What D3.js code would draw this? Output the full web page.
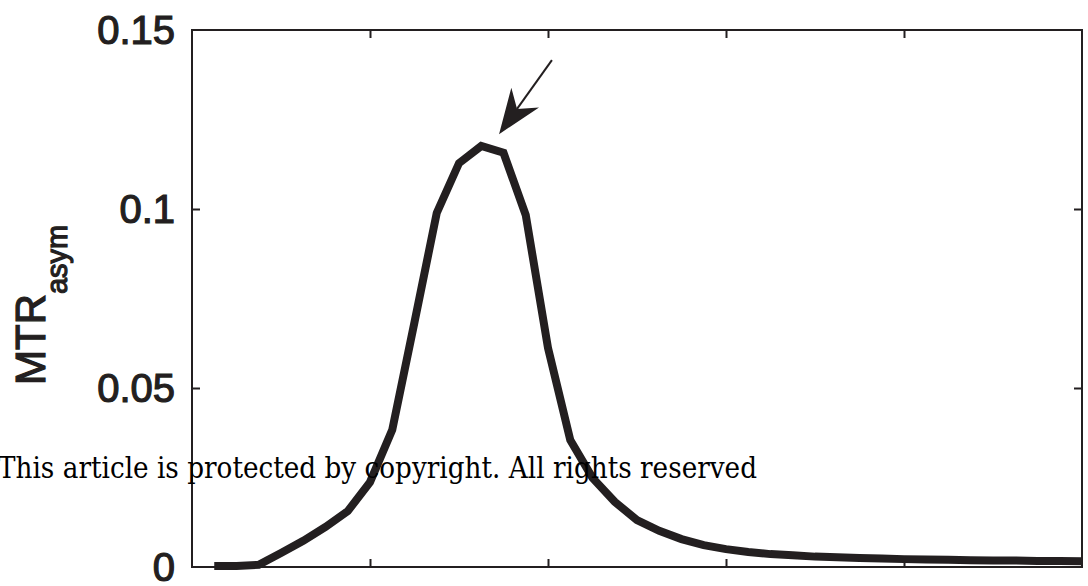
<!DOCTYPE html>
<html>
<head>
<meta charset="utf-8">
<script src="https://cdn.jsdelivr.net/npm/d3@7"></script>
<style>
  body { margin: 0; background: #fff; }
  svg { display: block; }
</style>
</head>
<body>
<svg></svg>
<script>
const width = 1088
const height = 586

// offsets (ppm) and MTR asymmetry
const offsets = [0.125, 0.25, 0.375, 0.5, 0.625, 0.75, 0.875, 1.0, 1.125, 1.25,
  1.375, 1.5, 1.625, 1.75, 1.875, 2.0, 2.125, 2.25, 2.375, 2.5,
  2.625, 2.75, 2.875, 3.0, 3.125, 3.25, 3.375, 3.5, 3.625, 3.75,
  3.875, 4.0, 4.125, 4.25, 4.375, 4.5, 4.625, 4.75, 4.875, 5.0]
const mtrAsym = [0.0003, 0.0003, 0.0006, 0.0039, 0.0073, 0.0112, 0.0156, 0.0237, 0.0383, 0.0684,
  0.0989, 0.1128, 0.1176, 0.1157, 0.0983, 0.0612, 0.0355, 0.0249, 0.0182, 0.0131,
  0.0101, 0.0078, 0.0061, 0.0050, 0.0042, 0.0036, 0.0033, 0.0029, 0.0027, 0.0025,
  0.0024, 0.0022, 0.0021, 0.0020, 0.0019, 0.0018, 0.0018, 0.0017, 0.0017, 0.0016]

const xTicks = [1, 2, 3, 4]
const yTicks = [0, 0.05, 0.1, 0.15]
const yTickLabels = ['0', '0.05', '0.1', '0.15']

// arrow pointing at the peak (tail -> tip, data units)
const arrowTail = [2.022, 0.1416]
const arrowTip = [1.725, 0.1209]

const ink = '#231f20'

const x = d3.scaleLinear().domain([0, 5]).range([192, 1082])
const y = d3.scaleLinear().domain([0, 0.15]).range([567, 30])

const svg = d3.select('svg')
  .attr('width', width)
  .attr('height', height)

// box
svg.append('rect')
  .attr('x', x(0)).attr('y', y(0.15))
  .attr('width', x(5) - x(0)).attr('height', y(0) - y(0.15))
  .attr('fill', 'none')
  .attr('stroke', ink)
  .attr('stroke-width', 2)

// ticks on all four sides, pointing inward
const tickLen = 8
const styleAxis = g => {
  g.select('.domain').remove()
  g.selectAll('line').attr('stroke', ink).attr('stroke-width', 2)
}

svg.append('g')
  .attr('transform', `translate(0,${y(0)})`)
  .call(d3.axisBottom(x).tickValues(xTicks).tickSize(-tickLen).tickFormat(''))
  .call(styleAxis)

svg.append('g')
  .attr('transform', `translate(0,${y(0.15)})`)
  .call(d3.axisTop(x).tickValues(xTicks).tickSize(-tickLen).tickFormat(''))
  .call(styleAxis)

svg.append('g')
  .attr('transform', `translate(${x(0)},0)`)
  .call(d3.axisLeft(y).tickValues(yTicks.slice(1, 3)).tickSize(-tickLen).tickFormat(''))
  .call(styleAxis)

svg.append('g')
  .attr('transform', `translate(${x(5)},0)`)
  .call(d3.axisRight(y).tickValues(yTicks.slice(1, 3)).tickSize(-tickLen).tickFormat(''))
  .call(styleAxis)

// y tick labels
svg.append('g')
  .selectAll('text')
  .data(yTicks)
  .join('text')
  .attr('x', x(0) - 17)
  .attr('y', d => y(d))
  .attr('dy', '0.36em')
  .attr('text-anchor', 'end')
  .attr('font-family', 'Liberation Sans, Arial, sans-serif')
  .attr('font-size', 40)
  .attr('fill', ink)
  .attr('stroke', ink)
  .attr('stroke-width', 1.2)
  .text((d, i) => yTickLabels[i])

// y axis title
const title = svg.append('text')
  .attr('transform', `translate(45,385) rotate(-90)`)
  .attr('font-family', 'Liberation Sans, Arial, sans-serif')
  .attr('fill', ink)
  .attr('stroke', ink)
  .attr('stroke-width', 1.2)
title.append('tspan').attr('font-size', 42).text('MTR')
title.append('tspan').attr('font-size', 29).attr('dy', 22).text('asym')

// curve
const line = d3.line()
  .x((d, i) => x(offsets[i]))
  .y(d => y(d))

svg.append('path')
  .datum(mtrAsym)
  .attr('d', line)
  .attr('fill', 'none')
  .attr('stroke', ink)
  .attr('stroke-width', 8)
  .attr('stroke-linejoin', 'miter')

// arrow
const tx = x(arrowTip[0]), ty = y(arrowTip[1])
const sx = x(arrowTail[0]), sy = y(arrowTail[1])
const len = Math.hypot(tx - sx, ty - sy)
const ux = (sx - tx) / len, uy = (sy - ty) / len   // back along the shaft
const nx = -uy, ny = ux
const headLen = 45, headHalf = 17, notch = 31
const pt = (a, b) => [tx + ux * a + nx * b, ty + uy * a + ny * b]

svg.append('line')
  .attr('x1', sx).attr('y1', sy)
  .attr('x2', pt(notch, 0)[0]).attr('y2', pt(notch, 0)[1])
  .attr('stroke', ink)
  .attr('stroke-width', 2)

svg.append('path')
  .attr('d', d3.line()([pt(0, 0), pt(headLen, headHalf), pt(notch, 0), pt(headLen, -headHalf)]) + 'Z')
  .attr('fill', ink)

// watermark
svg.append('text')
  .attr('x', -2)
  .attr('y', 478)
  .attr('font-family', 'DejaVu Serif, Liberation Serif, serif')
  .attr('font-size', 29)
  .attr('textLength', 759)
  .attr('lengthAdjust', 'spacingAndGlyphs')
  .attr('fill', '#000')
  .text('This article is protected by copyright. All rights reserved')
</script>
</body>
</html>
